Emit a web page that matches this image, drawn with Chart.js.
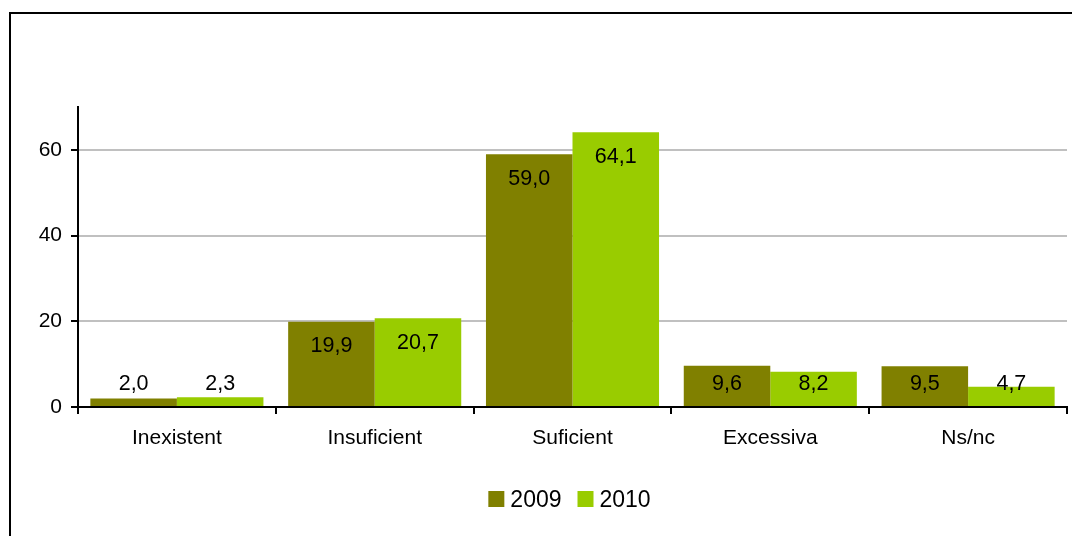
<!DOCTYPE html>
<html>
<head>
<meta charset="utf-8">
<script src="https://cdn.jsdelivr.net/npm/chart.js@4"></script>
<style>
html,body{margin:0;padding:0;background:#fff;overflow:hidden;}
#wrap{position:relative;width:1072px;height:536px;}
</style>
</head>
<body>
<div id="wrap"><canvas id="c" width="1072" height="536"></canvas></div>
<script>
const categories = ['Inexistent', 'Insuficient', 'Suficient', 'Excessiva', 'Ns/nc'];
const seriesNames = ['2009', '2010'];
const values2009 = [2.0, 19.9, 59.0, 9.6, 9.5];
const values2010 = [2.3, 20.7, 64.1, 8.2, 4.7];
const yTicks = [0, 20, 40, 60];
const yMax = 70;
const colors = ['#808000', '#99CC00'];

const FONT = "'Liberation Sans', Arial, sans-serif";

const framePlugin = {
  id: 'frame',
  beforeDraw(chart) {
    const ctx = chart.ctx;
    ctx.save();
    ctx.fillStyle = '#fff';
    ctx.fillRect(0, 0, chart.width, chart.height);
    ctx.fillStyle = '#000';
    ctx.fillRect(9, 12, 2, chart.height);
    ctx.fillRect(9, 12, chart.width, 2);
    ctx.restore();
  }
};

const labelPlugin = {
  id: 'valLabels',
  afterDatasetsDraw(chart) {
    const ctx = chart.ctx;
    ctx.save();
    ctx.font = '21.5px ' + FONT;
    ctx.fillStyle = '#000';
    ctx.textAlign = 'center';
    ctx.textBaseline = 'alphabetic';
    chart.data.datasets.forEach((ds, i) => {
      const meta = chart.getDatasetMeta(i);
      meta.data.forEach((el, j) => {
        const v = ds.data[j];
        const y = Math.min(el.y + 30.5, el.base - 16.5);
        ctx.fillText(v.toFixed(1).replace('.', ','), el.x, y);
      });
    });
    ctx.restore();
  }
};

const legendPlugin = {
  id: 'customLegend',
  afterDraw(chart) {
    const ctx = chart.ctx;
    ctx.save();
    ctx.font = '23px ' + FONT;
    const box = 16, gapText = 6, gapItem = 16;
    const items = chart.data.datasets.map(d => ({label: d.label, color: d.backgroundColor, w: ctx.measureText(d.label).width}));
    let total = 0;
    items.forEach((it, i) => { total += box + gapText + it.w + (i < items.length - 1 ? gapItem : 0); });
    let x = (chart.chartArea.left + chart.chartArea.right) / 2 - total / 2 - 3;
    const yBox = 491;
    ctx.textBaseline = 'alphabetic';
    ctx.textAlign = 'left';
    items.forEach(it => {
      ctx.fillStyle = it.color;
      ctx.fillRect(x, yBox, box, box);
      x += box + gapText;
      ctx.fillStyle = '#000';
      ctx.fillText(it.label, x, 507);
      x += it.w + gapItem;
    });
    ctx.restore();
  }
};

new Chart(document.getElementById('c'), {
  type: 'bar',
  data: {
    labels: categories,
    datasets: [
      {label: seriesNames[0], data: values2009, backgroundColor: colors[0], borderWidth: 0},
      {label: seriesNames[1], data: values2010, backgroundColor: colors[1], borderWidth: 0}
    ]
  },
  options: {
    responsive: false,
    animation: false,
    devicePixelRatio: 1,
    layout: {padding: {top: 107, right: 5, left: 0, bottom: 0}},
    datasets: {bar: {barPercentage: 1, categoryPercentage: 0.875}},
    plugins: {legend: {display: false}, tooltip: {enabled: false}, title: {display: false}},
    scales: {
      x: {
        afterFit(s) { s.height = 129; },
        grid: {offset: true, drawOnChartArea: false, drawTicks: true, tickLength: 7, color: '#000', lineWidth: 2},
        border: {color: '#000', width: 2},
        ticks: {font: {family: FONT, size: 21}, color: '#000', padding: 12, maxRotation: 0}
      },
      y: {
        min: 0, max: yMax,
        afterFit(s) { s.width = 78; },
        afterBuildTicks(s) { s.ticks = yTicks.map(v => ({value: v})); },
        grid: {color: '#c0c0c0', tickColor: '#000', lineWidth: 2, tickLength: 7},
        border: {color: '#000', width: 2},
        ticks: {font: {family: FONT, size: 21}, color: '#000', padding: 9}
      }
    }
  },
  plugins: [framePlugin, labelPlugin, legendPlugin]
});
</script>
</body>
</html>
